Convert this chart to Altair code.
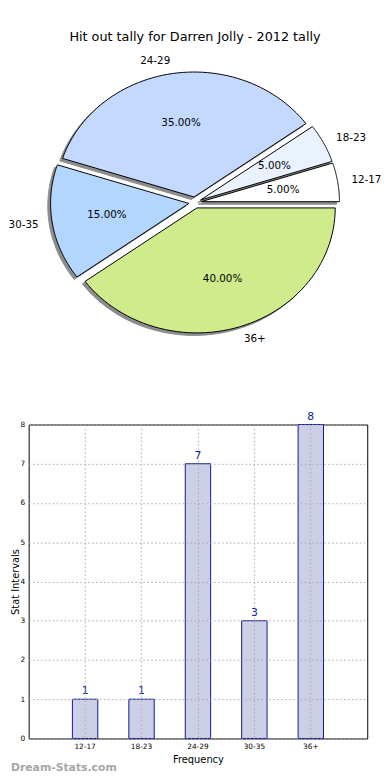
import altair as alt
import pandas as pd

# ---- data ----
title_text = "Hit out tally for Darren Jolly - 2012 tally"
watermark = "Dream-Stats.com"
categories = ["12-17", "18-23", "24-29", "30-35", "36+"]
tallies = [1, 1, 7, 3, 8]
pie_colors = ["#ffffff", "#eaf2ff", "#c4d9ff", "#b3d6ff", "#cfeb8b"]

df = pd.DataFrame({"cat": categories, "value": tallies, "color": pie_colors,
                   "i": list(range(len(categories)))})

FONT = "DejaVu Sans"
PW = 344                 # panel width
CX, CY = 169, 190.5      # pie centre inside the pie panel (px)
RX, RY = 140.5, 127      # matplotlib pie is slightly elliptical (non-equal aspect)
D = 0.045                # explode fraction
SH = 0.02                # shadow offset fraction
NSEG = 60

pie_base = (
    alt.Chart(df)
    .transform_joinaggregate(total="sum(value)")
    .transform_window(cum="sum(value)", sort=[alt.SortField("i", order="descending")])
    .transform_calculate(t0="(datum.cum - datum.value) / datum.total * 2 * PI + PI / 2")
    .transform_calculate(t1="datum.cum / datum.total * 2 * PI + PI / 2")
    .transform_calculate(mid="(datum.t0 + datum.t1) / 2")
    .transform_calculate(px=f"{CX} + {D} * {RX} * sin(datum.mid)")
    .transform_calculate(py=f"{CY} - {D} * {RY} * cos(datum.mid)")
    .transform_calculate(tx=f"datum.px + 0.6 * {RX} * sin(datum.mid)")
    .transform_calculate(ty=f"datum.py - 0.6 * {RY} * cos(datum.mid)")
    .transform_calculate(lx=f"datum.px + 1.1 * {RX} * sin(datum.mid)")
    .transform_calculate(ly=f"datum.py - 1.1 * {RY} * cos(datum.mid)")
    .transform_calculate(side="sin(datum.mid) > 0 ? 'r' : 'l'")
    .transform_calculate(pct="format(datum.value / datum.total * 100, '.2f') + '%'")
)

# wedge outlines as polygons: centre -> arc -> centre
wedge_pts = (
    pie_base
    .transform_calculate(k=f"sequence(0, {NSEG + 3})")
    .transform_flatten(["k"])
    .transform_calculate(
        ang=f"datum.t0 + (datum.t1 - datum.t0) * clamp(datum.k - 1, 0, {NSEG}) / {NSEG}")
    .transform_calculate(
        wx=f"(datum.k == 0 || datum.k > {NSEG + 1}) ? datum.px : datum.px + {RX} * sin(datum.ang)")
    .transform_calculate(
        wy=f"(datum.k == 0 || datum.k > {NSEG + 1}) ? datum.py : datum.py - {RY} * cos(datum.ang)")
    .transform_calculate(swx=f"datum.wx - {SH} * {RX}")
    .transform_calculate(swy=f"datum.wy + {SH} * {RY}")
)

shadow = wedge_pts.mark_line(fill="#8c8c8c", stroke="#8c8c8c", strokeWidth=1,
                             interpolate="linear").encode(
    x=alt.X("swx:Q", scale=None, axis=None),
    y=alt.Y("swy:Q", scale=None, axis=None),
    detail="cat:N",
    order=alt.Order("k:Q"),
)
wedges = wedge_pts.mark_line(stroke="black", strokeWidth=1, strokeJoin="miter",
                             interpolate="linear").encode(
    x=alt.X("wx:Q", scale=None, axis=None),
    y=alt.Y("wy:Q", scale=None, axis=None),
    fill=alt.Fill("color:N", scale=None),
    detail="cat:N",
    order=alt.Order("k:Q"),
)
pct_text = pie_base.mark_text(font=FONT, fontSize=10.5, color="black", align="center",
                              baseline="middle").encode(
    x=alt.X("tx:Q", scale=None, axis=None),
    y=alt.Y("ty:Q", scale=None, axis=None),
    text="pct:N",
)
lab_r = pie_base.transform_filter("datum.side == 'r'").mark_text(
    font=FONT, fontSize=10.5, color="black", align="left", baseline="middle").encode(
    x=alt.X("lx:Q", scale=None, axis=None),
    y=alt.Y("ly:Q", scale=None, axis=None),
    text="cat:N",
)
lab_l = pie_base.transform_filter("datum.side == 'l'").mark_text(
    font=FONT, fontSize=10.5, color="black", align="right", baseline="middle").encode(
    x=alt.X("lx:Q", scale=None, axis=None),
    y=alt.Y("ly:Q", scale=None, axis=None),
    text="cat:N",
)
title_mark = alt.Chart(pd.DataFrame({"t": [title_text]})).mark_text(
    font=FONT, fontSize=13, color="black", align="center", baseline="middle").encode(
    x=alt.value(CX), y=alt.value(22), text="t:N")

pie = alt.layer(shadow, wedges, pct_text, lab_r, lab_l, title_mark).properties(
    width=PW, height=400, view=alt.ViewBackground(stroke="transparent"))

# ---- bar chart ----
grid_kw = dict(grid=True, gridColor="#aaaaaa", gridDash=[1.5, 2.5], gridWidth=1, zindex=1,
               ticks=False, domain=False, labelFont=FONT, labelFontSize=7.5,
               labelColor="black", titleFont=FONT, titleFontSize=10,
               titleFontWeight="normal", titleColor="black", labelPadding=4)
bar_base = alt.Chart(df).encode(
    x=alt.X("cat:N", sort=categories,
            scale=alt.Scale(paddingInner=0.55, paddingOuter=0.775),
            axis=alt.Axis(title="Frequency", labelAngle=0, titlePadding=5,
                          bandPosition=0.5, **grid_kw)),
    y=alt.Y("value:Q", scale=alt.Scale(domain=[0, 8], nice=False),
            axis=alt.Axis(title="Stat Intervals", values=list(range(9)),
                          titleX=-13, titleY=159.5, titleAngle=270, titleAlign="center",
                          titleBaseline="middle", **grid_kw)),
)
bars = bar_base.mark_bar(fill="#cdcfe6", stroke="#0b1a90", strokeWidth=1)
bar_text = bar_base.mark_text(font=FONT, fontSize=11, color="#0b1a90", baseline="bottom",
                              dy=-3).encode(text="value:Q")
wm = alt.Chart(pd.DataFrame({"t": [watermark]})).mark_text(
    font=FONT, fontSize=11, fontWeight="bold", color="#a6a6a6", align="left",
    baseline="middle").encode(x=alt.value(-18), y=alt.value(349), text="t:N")

bar = alt.layer(bars, bar_text, wm).properties(
    width=PW, height=319, view=alt.ViewBackground(stroke="black", strokeWidth=1))

chart = alt.vconcat(pie, bar, spacing=0).properties(
    padding={"left": 0, "top": 0, "right": 0, "bottom": 0}
).configure(font=FONT)

chart.save("out.html", embed_options={"renderer": "svg", "actions": False})
